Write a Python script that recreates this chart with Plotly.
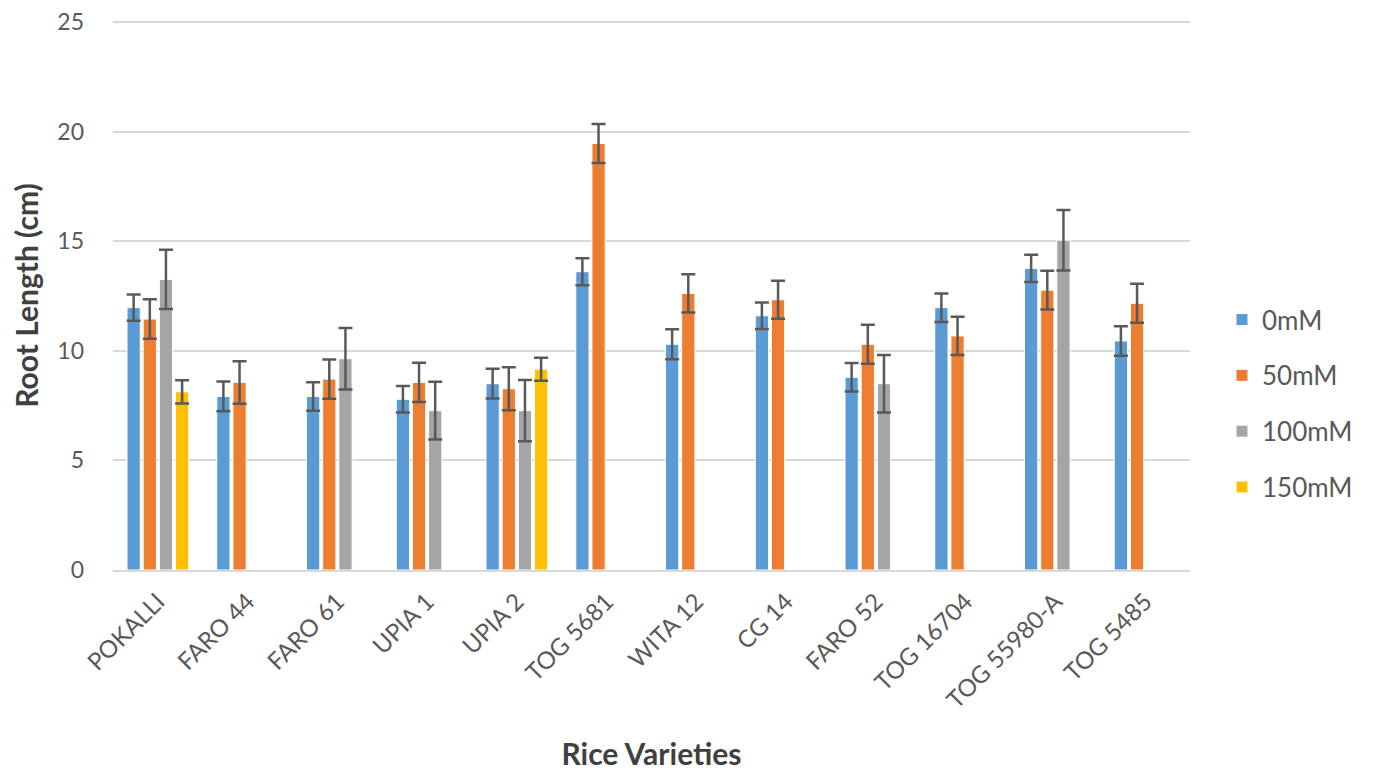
import plotly.graph_objects as go

varieties = ["POKALLI", "FARO 44", "FARO 61", "UPIA 1", "UPIA 2", "TOG 5681",
             "WITA 12", "CG 14", "FARO 52", "TOG 16704", "TOG 55980-A", "TOG 5485"]

series_names = ["0mM", "50mM", "100mM", "150mM"]
colors = ["#5b9bd5", "#ed7d31", "#a5a5a5", "#ffc000"]

v0 = [11.97, 7.92, 7.92, 7.79, 8.50, 13.61, 10.30, 11.60, 8.79, 11.97, 13.76, 10.45]
v50 = [11.45, 8.56, 8.71, 8.56, 8.27, 19.46, 12.62, 12.33, 10.30, 10.68, 12.77, 12.17]
v100 = [13.26, None, 9.64, 7.27, 7.27, None, None, None, 8.50, None, 15.05, None]
v150 = [8.13, None, None, None, 9.16, None, None, None, None, None, None, None]

e0 = [0.60, 0.68, 0.65, 0.60, 0.68, 0.62, 0.68, 0.60, 0.65, 0.65, 0.62, 0.67]
e50 = [0.90, 0.97, 0.90, 0.90, 0.98, 0.89, 0.87, 0.87, 0.89, 0.87, 0.88, 0.89]
e100 = [1.35, None, 1.40, 1.32, 1.40, None, None, None, 1.31, None, 1.38, None]
e150 = [0.53, None, None, None, 0.53, None, None, None, None, None, None, None]

values = [v0, v50, v100, v150]
errors = [e0, e50, e100, e150]

fig = go.Figure()
for name, vals, errs, col in zip(series_names, values, errors, colors):
    fig.add_trace(go.Bar(
        x=varieties, y=vals, name=name,
        marker=dict(color=col, line=dict(color="white", width=1)),
        error_y=dict(type="data", array=[e if e is not None else 0 for e in errs],
                     visible=True, color="#595959", thickness=2.5, width=7),
        legendgroup=name,
    ))

font_family = "Lato, Open Sans, sans-serif"
fig.update_layout(
    width=1366, height=763,
    barmode="group", bargap=0.28, bargroupgap=0.18,
    plot_bgcolor="white", paper_bgcolor="white",
    margin=dict(l=105, r=184, t=13, b=201),
    font=dict(family=font_family, color="#595959"),
    xaxis=dict(
        automargin=False,
        tickangle=-45, tickfont=dict(size=24, color="#595959"),
        showgrid=False, showline=True, linecolor="#d9d9d9", linewidth=2,
        ticks="", ticklabelstandoff=6,
        title=dict(text="<b>Rice Varieties</b>",
                   font=dict(size=30, color="#404040"), standoff=140),
    ),
    yaxis=dict(
        automargin=False,
        range=[0, 25.05], tickvals=[0, 5, 10, 15, 20, 25],
        tickfont=dict(size=23, color="#595959"),
        ticklabeloverflow="allow",
        showgrid=True, gridcolor="#d9d9d9", gridwidth=2,
        zeroline=False, showline=False, ticks="", ticklabelstandoff=28,
        title=dict(text="<b>Root Length (cm)</b>",
                   font=dict(size=30, color="#404040"), standoff=14),
    ),
    legend=dict(
        x=1.0297, y=0.303, xanchor="left", yanchor="middle",
        font=dict(size=26, color="#595959"),
        tracegroupgap=19, traceorder="grouped",
    ),
)

fig.write_html("out.html")
